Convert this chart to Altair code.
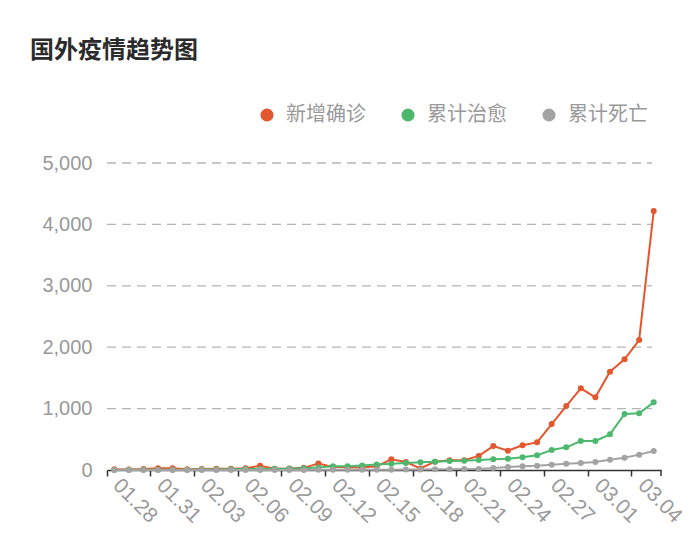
import altair as alt
import pandas as pd

dates = ["01.28", "01.29", "01.30", "01.31"] + [f"02.{d:02d}" for d in range(1, 30)] + [f"03.{d:02d}" for d in range(1, 6)]

new_confirmed = [12, 10, 15, 28, 30, 12, 15, 20, 22, 30, 70, 22, 25, 35, 105, 50, 45, 40, 60, 175,
                 130, 25, 135, 160, 160, 230, 390, 315, 402, 450, 749, 1042, 1330, 1184, 1601, 1803, 2117, 4218]
cured = [2, 3, 3, 4, 5, 6, 8, 10, 12, 15, 18, 20, 22, 28, 40, 60, 62, 75, 90, 100,
         112, 125, 135, 147, 150, 163, 174, 185, 206, 239, 326, 369, 472, 472, 581, 912, 923, 1102]
deaths = [0, 0, 0, 0, 0, 0, 0, 1, 1, 1, 1, 2, 2, 2, 3, 3, 4, 4, 5, 6,
          8, 10, 12, 14, 16, 18, 33, 49, 60, 70, 87, 103, 114, 130, 168, 200, 250, 309]

series_names = ["新增确诊", "累计治愈", "累计死亡"]
series_colors = ["#e3572f", "#4cb86e", "#a3a3a3"]
tick_labels = dates[::3]
y_ticks = [0, 1000, 2000, 3000, 4000, 5000]

rows = []
for name, vals in zip(series_names, [new_confirmed, cured, deaths]):
    for d, v in zip(dates, vals):
        rows.append({"date": d, "series": name, "value": v})
df = pd.DataFrame(rows)
grid_df = pd.DataFrame({"value": y_ticks[1:]})

W, H = 554, 307
NUM_FONT = "Liberation Sans"
CJK_FONT = "Noto Sans CJK SC"

x_enc = alt.X("date:N", sort=dates, bandPosition=0.5,
              scale=alt.Scale(type="band", domain=dates, paddingInner=0, paddingOuter=0),
              axis=alt.Axis(title=None, values=tick_labels, bandPosition=0,
                            labelAngle=45, labelAlign="left", labelBaseline="middle",
                            labelOffset=2, labelPadding=6, labelFont=NUM_FONT,
                            labelFontSize=21, labelColor="#999999",
                            domainColor="#333333", domainWidth=1.5,
                            tickColor="#333333", tickWidth=1.5, tickSize=6,
                            grid=False, labelOverlap=False))
y_scale = alt.Scale(domain=[0, 5000], nice=False)
y_axis = alt.Axis(title=None, values=y_ticks, format=",.0f",
                  labelFont=NUM_FONT, labelFontSize=20, labelColor="#999999",
                  labelPadding=15, domain=False, ticks=False, grid=False)
y_enc = alt.Y("value:Q", scale=y_scale, axis=y_axis)
color_enc = alt.Color("series:N",
                      scale=alt.Scale(domain=series_names, range=series_colors),
                      legend=alt.Legend(title=None, orient="none", direction="horizontal",
                                        legendX=150, legendY=-58,
                                        symbolType="circle", symbolSize=170,
                                        symbolStrokeWidth=0, symbolOpacity=1,
                                        labelFont=CJK_FONT, labelFontSize=20,
                                        labelColor="#999999", labelOffset=9,
                                        columnPadding=32))

grid = alt.Chart(grid_df).mark_rule(color="#b5b5b5", strokeWidth=1.3, strokeDash=[9, 6]).encode(
    y=y_enc, x=alt.value(0), x2=alt.value(W - 9))
base = alt.Chart(df)
lines = base.mark_line(strokeWidth=2).encode(x=x_enc, y=y_enc, color=color_enc, detail="series:N")
points = base.mark_circle(size=36, opacity=1).encode(x=x_enc, y=y_enc, color=color_enc)
end_tick = alt.Chart(pd.DataFrame({"k": [0]})).mark_rule(color="#333333", strokeWidth=1.5).encode(
    x=alt.value(W), y=alt.value(H), y2=alt.value(H + 6))

chart = alt.layer(grid, lines, points, end_tick).properties(
    width=W, height=H,
    title=alt.TitleParams("国外疫情趋势图", anchor="start", frame="group", dx=-77,
                          offset=42, font=CJK_FONT, fontSize=24, fontWeight="bold",
                          color="#2b2b2b"),
    autosize=alt.AutoSizeParams(type="none"),
    padding={"left": 107, "top": 163, "right": 39, "bottom": 78},
).configure(background="white").configure_view(stroke=None)

chart.save("out.html", embed_options={"renderer": "svg", "actions": False})
